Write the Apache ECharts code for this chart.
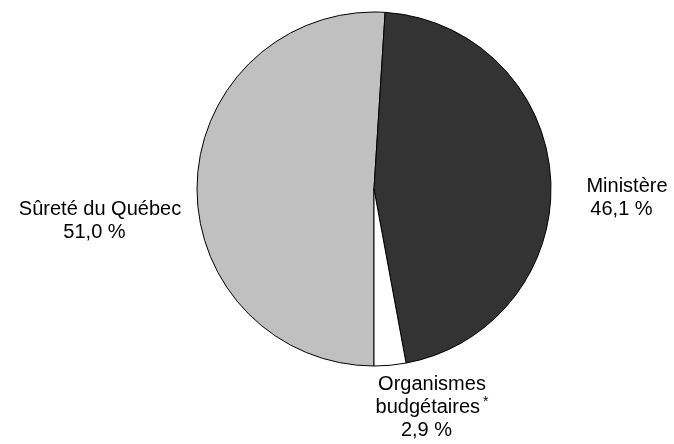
<!DOCTYPE html>
<html><head><meta charset="utf-8">
<script src="https://cdn.jsdelivr.net/npm/echarts@6/dist/echarts.min.js"></script>
<style>html,body{margin:0;padding:0;background:#fff}#c{width:674px;height:444px}</style>
</head><body><div id="c"></div>
<script>
const categories = ['Sûreté du Québec', 'Ministère', 'Organismes budgétaires'];
const values = [51.0, 46.1, 2.9];
const valueLabels = ['51,0 %', '46,1 %', '2,9 %'];
const colors = ['#c0c0c0', '#333333', '#ffffff'];

const labelPos = {
  'Sûreté du Québec': [100, 221],
  'Ministère': [627, 198],
  'Organismes budgétaires': [432, 407]
};

const FONT = 'Liberation Sans, Arial, sans-serif';
const chart = echarts.init(document.getElementById('c'), null, {renderer: 'canvas'});
chart.setOption({
  animation: false,
  backgroundColor: '#ffffff',
  series: [{
    type: 'pie',
    center: [374, 189],
    radius: [0, 177],
    startAngle: 270,
    clockwise: true,
    avoidLabelOverlap: false,
    data: categories.map((n, i) => ({name: n, value: values[i], itemStyle: {color: colors[i]}})),
    itemStyle: {borderColor: '#000000', borderWidth: 1},
    emphasis: {disabled: true},
    labelLine: {show: false},
    label: {
      show: true,
      position: 'outside',
      overflow: 'none',
      color: '#000',
      fontFamily: FONT,
      fontSize: 20,
      lineHeight: 23,
      align: 'center',
      formatter: p => {
        const i = p.dataIndex;
        if (i === 2) return '{t|Organismes}\n{t|budgétaires}{sup|*}\n{pct|' + valueLabels[i] + '}';
        return '{t|' + categories[i] + '}\n{pct|' + valueLabels[i] + '}';
      },
      rich: {
        t: {fontSize: 20, lineHeight: 23, fontFamily: FONT, color: '#000'},
        pct: {fontSize: 20, lineHeight: 23, fontFamily: FONT, color: '#000', padding: [0, 11, 0, 0]},
        sup: {fontSize: 14, verticalAlign: 'top', lineHeight: 23, padding: [0, 0, 8, 3], fontFamily: FONT, color: '#000'}
      }
    },
    labelLayout: function (params) {
      const name = categories[params.dataIndex];
      const p = labelPos[name];
      return {x: p[0], y: p[1], align: 'center', verticalAlign: 'middle'};
    }
  }]
});
</script></body></html>
